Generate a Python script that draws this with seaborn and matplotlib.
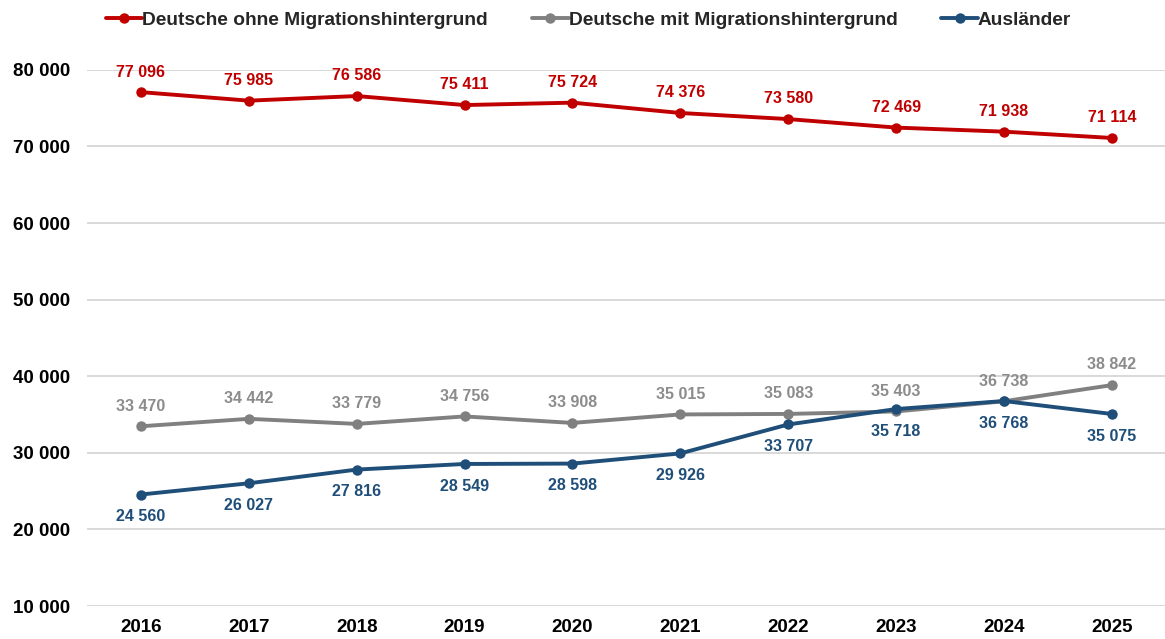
import matplotlib
matplotlib.use("Agg")
import matplotlib.pyplot as plt
import seaborn as sns
import pandas as pd

years = [2016, 2017, 2018, 2019, 2020, 2021, 2022, 2023, 2024, 2025]
ohne_migration = [77096, 75985, 76586, 75411, 75724, 74376, 73580, 72469, 71938, 71114]
mit_migration = [33470, 34442, 33779, 34756, 33908, 35015, 35083, 35403, 36738, 38842]
auslaender = [24560, 26027, 27816, 28549, 28598, 29926, 33707, 35718, 36768, 35075]

series_names = ["Deutsche ohne Migrationshintergrund",
                "Deutsche mit Migrationshintergrund",
                "Ausländer"]
colors = ["#C00000", "#808080", "#1F4E79"]
label_colors = ["#C00000", "#8C8C8C", "#1F4E79"]
label_offsets = [14.5, 14.5, -16]   # points above (+) or below (-) the marker


def fmt(v):
    return f"{v:,}".replace(",", " ")


rows = []
for name, values in zip(series_names, [ohne_migration, mit_migration, auslaender]):
    for y, v in zip(years, values):
        rows.append({"Jahr": y, "Wert": v, "Gruppe": name})
df = pd.DataFrame(rows)

sns.set_style("white")
plt.rcParams["font.family"] = ["Liberation Sans", "DejaVu Sans"]

fig = plt.figure(figsize=(11.65, 6.39), dpi=100)
ax = fig.add_axes([0.0747, 0.0516, 0.926, 0.839])

sns.lineplot(data=df, x="Jahr", y="Wert", hue="Gruppe", hue_order=series_names,
             palette=colors, marker="o", markersize=7.5, markeredgewidth=0,
             linewidth=2.8, ax=ax)

for name, col, off in zip(series_names, label_colors, label_offsets):
    sub = df[df["Gruppe"] == name]
    for x, v in zip(sub["Jahr"], sub["Wert"]):
        ax.annotate(fmt(v), (x, v), xytext=(0, off), textcoords="offset points",
                    ha="center", va="center", fontsize=11.5, fontweight="bold",
                    color=col, annotation_clip=False)

ax.set_xlim(2015.5, 2025.5)
ax.set_ylim(10000, 80000)
ax.set_yticks(range(10000, 80001, 10000))
ax.set_yticklabels([fmt(t) for t in range(10000, 80001, 10000)])
ax.set_xticks(years)
ax.set_xticklabels([str(y) for y in years])
ax.tick_params(axis="both", length=0, labelsize=13.5, colors="black")
ax.tick_params(axis="x", pad=9)
ax.tick_params(axis="y", pad=12)
for lbl in ax.get_xticklabels() + ax.get_yticklabels():
    lbl.set_fontweight("bold")
ax.set_xlabel("")
ax.set_ylabel("")
ax.grid(axis="y", color="#D9D9D9", linewidth=1.4)
ax.set_axisbelow(True)
for s in ax.spines.values():
    s.set_visible(False)

sns.move_legend(ax, "center left", bbox_to_anchor=(0.091, 0.969),
                bbox_transform=fig.transFigure, ncol=3, frameon=False,
                title=None, fontsize=13.8, handlelength=1.9, handletextpad=0.0,
                columnspacing=2.3, borderaxespad=0, borderpad=0)
for t in ax.get_legend().get_texts():
    t.set_fontweight("bold")

fig.savefig("out.png", dpi=100)
